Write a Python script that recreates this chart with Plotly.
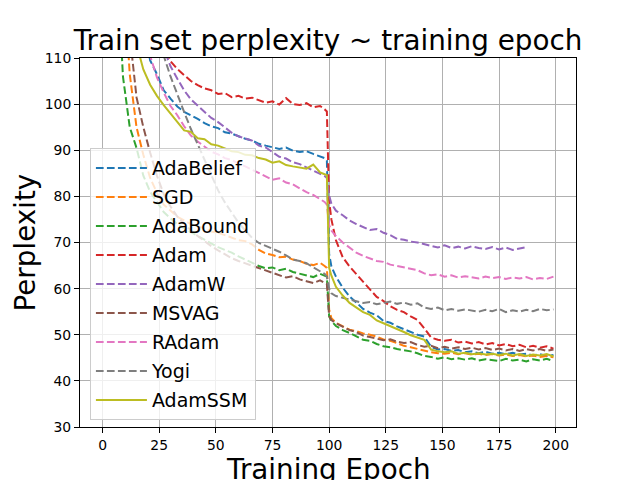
import plotly.graph_objects as go

EPOCHS = ([e for e in range(0, 97, 3)] + [98, 99, 100, 101]
          + [e for e in range(103, 200, 3)])

ADABELIEF = [420, 300, 230, 185, 155, 132, 117, 109.5, 106.5, 103, 101.2, 99.5, 98.3, 97.6, 96.8, 95.9, 95.2,
             94.8, 93.9, 93.6, 93.0, 92.5, 92.1, 91.4, 91.0, 90.6, 90.3, 90.6, 89.9, 89.6, 89.8, 89.2, 88.6,
             88.3, 87.8, 67.5, 64.8, 62.6, 60.2, 58.3, 57.0, 55.6, 54.8, 54.2, 53.0, 52.6, 51.8, 51.2, 50.6,
             50.0, 49.6, 47.4, 46.8, 46.9, 46.5, 46.7, 46.2, 46.4, 46.0, 46.3, 45.9, 46.1, 45.8, 46.1, 45.7,
             45.9, 45.5, 45.8, 45.4, 45.6]
SGD = [600, 300, 190, 130, 106.5, 95, 89, 84, 80.8, 78.2, 76.9, 75.6, 74.8, 74.0, 73.5, 73.1, 72.4,
       72.1, 71.6, 71.0, 70.5, 70.3, 69.6, 68.4, 67.6, 67.3, 66.8, 66.9, 66.3, 66.0, 65.4, 65.1, 65.6,
       64.9, 64.5, 55.5, 53.6, 52.6, 51.8, 51.1, 50.8, 50.3, 50.0, 49.6, 49.0, 48.7, 48.2, 47.6, 47.3,
       46.9, 46.5, 46.2, 46.0, 45.9, 46.1, 45.8, 46.0, 45.7, 45.9, 45.6, 45.8, 45.5, 45.7, 45.4, 45.6,
       45.3, 45.5, 45.2, 45.4, 45.1]
ADABOUND = [700, 250, 135, 106, 95, 90.5, 84.5, 81.0, 78.8, 76.6, 75.2, 74.0, 73.1, 72.2, 71.4, 70.6, 69.8,
            69.0, 68.4, 67.8, 67.0, 66.3, 65.6, 64.9, 64.4, 64.6, 64.0, 64.3, 63.6, 63.2, 62.9, 62.5, 63.2,
            62.8, 62.6, 54.0, 53.0, 51.9, 51.0, 50.4, 49.6, 48.9, 48.7, 48.0, 47.5, 47.3, 46.9, 46.7, 46.4,
            46.0, 45.4, 45.2, 44.8, 45.1, 44.7, 44.9, 44.6, 44.9, 44.4, 44.7, 44.5, 44.3, 44.8, 44.4, 44.6,
            44.2, 44.7, 44.4, 44.8, 44.3]
ADAM = [800, 500, 340, 250, 200, 165, 143, 128, 118, 113, 109.3, 107.6, 106.2, 105.0, 104.1, 103.4, 103.0,
        102.2, 102.4, 101.5, 101.8, 101.2, 101.4, 100.8, 100.3, 100.6, 99.9, 101.3, 100.0, 99.8, 100.2, 99.3,
        99.6, 98.9, 98.4, 79.0, 75.0, 70.5, 66.8, 64.8, 63.2, 61.6, 60.0, 58.2, 57.3, 56.2, 55.4, 54.9, 54.0,
        53.2, 51.4, 49.4, 48.9, 48.7, 48.9, 48.3, 48.5, 48.1, 48.4, 47.9, 48.2, 47.7, 48.0, 47.5, 47.8,
        47.3, 47.6, 47.2, 47.5, 47.0]
ADAMW = [900, 550, 380, 280, 215, 175, 148, 130, 119, 112, 108.2, 105.5, 103.0, 101.0, 99.6, 98.3, 97.0,
         96.1, 94.9, 93.8, 93.0, 92.6, 92.1, 91.0, 90.6, 89.6, 88.6, 88.2, 87.4, 87.0, 86.3, 85.7, 85.0,
         84.4, 84.0, 80.2, 78.4, 76.9, 75.9, 74.8, 74.0, 73.3, 72.7, 72.9, 72.1, 71.6, 70.8, 70.6, 70.2,
         70.0, 69.6, 69.2, 68.9, 69.4, 68.8, 69.1, 68.7, 69.2, 68.8, 68.6, 69.0, 68.5, 68.9, 68.4, 68.7,
         69.0, None, None, None, None]
MSVAG = [650, 350, 220, 155, 115, 101.5, 95, 89.5, 84.5, 80.5, 77.8, 75.6, 74.0, 72.6, 71.4, 70.3, 69.2,
         68.3, 67.4, 66.6, 66.0, 65.5, 65.0, 64.4, 63.9, 63.5, 62.9, 62.4, 62.7, 62.0, 61.6, 61.2, 61.8,
         61.3, 61.0, 54.0, 53.2, 52.5, 51.8, 51.0, 50.6, 49.8, 49.5, 49.1, 48.8, 49.0, 48.5, 48.2, 48.4,
         47.8, 47.4, 47.6, 47.1, 47.4, 47.0, 47.3, 46.9, 47.2, 46.8, 47.1, 46.7, 47.0, 46.6, 46.9, 46.5,
         46.9, 46.6, 46.9, 46.5, 46.8]
RADAM = [700, 420, 290, 215, 170, 140, 122, 110.5, 105.8, 102.5, 99.6, 97.6, 95.2, 93.2, 91.9, 90.8, 89.7,
         89.1, 88.3, 87.9, 87.1, 86.5, 85.8, 85.0, 84.3, 83.6, 83.9, 83.0, 82.6, 81.8, 80.9, 80.3, 79.5,
         78.8, 78.2, 73.8, 72.6, 71.4, 70.0, 68.9, 67.8, 67.1, 66.6, 66.0, 65.8, 65.2, 64.9, 64.6, 64.2,
         64.0, 63.3, 62.9, 63.1, 62.6, 62.9, 62.4, 62.7, 62.5, 62.2, 62.6, 62.3, 62.5, 62.1, 62.4, 62.2,
         62.5, 62.0, 62.3, 62.1, 62.6]
YOGI = [900, 600, 420, 310, 240, 190, 158, 135, 120, 110.5, 106, 102, 98.3, 94.6, 91.2, 88.0, 84.6,
        81.3, 78.7, 76.4, 74.3, 72.6, 71.0, 69.9, 69.3, 68.6, 68.0, 67.2, 66.3, 66.0, 65.5, 64.6, 63.8,
        63.2, 62.6, 60.0, 59.0, 58.4, 58.0, 57.6, 57.2, 56.9, 57.1, 56.6, 56.9, 57.2, 56.7, 57.0, 56.5,
        56.8, 55.9, 55.6, 55.9, 55.3, 55.6, 55.2, 55.5, 55.3, 55.0, 55.4, 55.1, 55.6, 54.9, 55.3, 55.0,
        55.4, 55.1, 55.6, 55.3, 55.5]
ADAMSSM = [500, 300, 210, 160, 130, 113, 107.5, 104.2, 101.8, 99.8, 98.0, 96.2, 94.3, 94.0, 92.6, 92.4, 91.3,
           91.0, 90.4, 89.8, 89.6, 89.0, 88.9, 88.3, 88.0, 87.3, 87.6, 86.8, 86.5, 86.3, 86.0, 86.9, 85.2,
           84.8, 84.6, 64.5, 62.8, 60.4, 58.5, 56.9, 55.9, 54.9, 54.3, 53.1, 52.5, 51.9, 51.2, 50.6, 49.9,
           49.4, 48.9, 46.8, 46.4, 46.2, 46.4, 45.9, 46.1, 45.8, 46.0, 45.7, 45.9, 45.6, 45.9, 45.5, 45.8,
           45.4, 45.7, 45.5, 45.8, 45.3]

SERIES = [
    ("AdaBelief", ADABELIEF, "#1f77b4", "dash"),
    ("SGD", SGD, "#ff7f0e", "dash"),
    ("AdaBound", ADABOUND, "#2ca02c", "dash"),
    ("Adam", ADAM, "#d62728", "dash"),
    ("AdamW", ADAMW, "#9467bd", "dash"),
    ("MSVAG", MSVAG, "#8c564b", "dash"),
    ("RAdam", RADAM, "#e377c2", "dash"),
    ("Yogi", YOGI, "#7f7f7f", "dash"),
    ("AdamSSM", ADAMSSM, "#bcbd22", "solid"),
]

FONT = "DejaVu Sans"
BIG = dict(family=FONT, size=27.8, color="black")

fig = go.Figure()
for name, vals, color, style in SERIES:
    fig.add_trace(go.Scatter(
        x=EPOCHS, y=vals, name=name, mode="lines", legendgroup=name,
        line=dict(color=color, width=2,
                  dash="7.7px,3.3px" if style == "dash" else "solid"),
    ))

axis_style = dict(
    showgrid=True, gridcolor="#b0b0b0", gridwidth=1, zeroline=False,
    showline=True, linecolor="black", linewidth=1, mirror=True,
    ticks="outside", ticklen=5, tickcolor="black", automargin=False,
    tickfont=dict(family=FONT, size=13.9, color="black"),
)

# page body has an 8px margin, so the figure is 8px smaller each way
fig.update_layout(
    width=632, height=472,
    paper_bgcolor="white", plot_bgcolor="white",
    margin=dict(l=72, r=64, t=50, b=53),
    title=dict(text="Train set perplexity ~ training epoch", font=BIG,
               x=0.5, xref="paper", y=1 - 32 / 472, yanchor="middle"),
    xaxis=dict(range=[-9.95, 208.95], tickvals=[0, 25, 50, 75, 100, 125, 150, 175, 200],
               **axis_style),
    yaxis=dict(range=[30, 110], tickvals=[30, 40, 50, 60, 70, 80, 90, 100, 110],
               **axis_style),
    legend=dict(x=0.02, y=0.756, xanchor="left", yanchor="top",
                bgcolor="rgba(255,255,255,0.8)", bordercolor="#cccccc", borderwidth=1,
                font=dict(family=FONT, size=19, color="black"), tracegroupgap=1.3,
                itemwidth=51),
    showlegend=True,
)

# axis titles as annotations so the x title can sit low, cut by the page edge as in the source
fig.add_annotation(text="Training Epoch", font=BIG, showarrow=False,
                   xref="paper", yref="paper", x=0.5, y=0, yshift=-24,
                   xanchor="center", yanchor="top")
fig.add_annotation(text="Perplexity", font=BIG, showarrow=False, textangle=-90,
                   xref="paper", yref="paper", x=0, y=0.5, xshift=-55,
                   xanchor="center", yanchor="middle")

fig.write_html("out.html")
